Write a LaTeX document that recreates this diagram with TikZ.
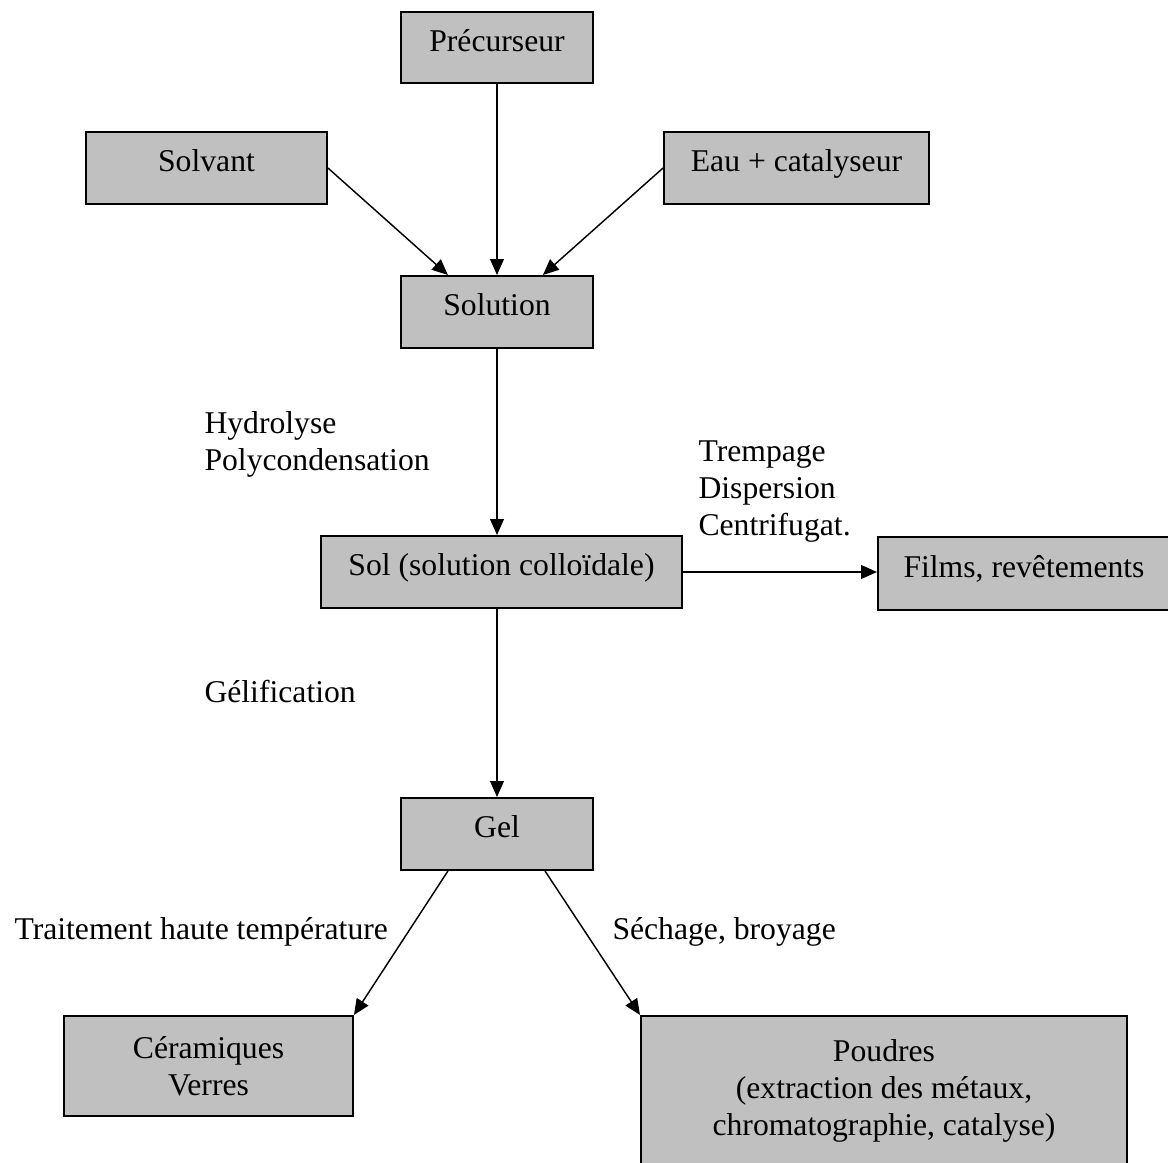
\documentclass[tikz,border=0pt]{standalone}
\usepackage{fontspec}
\setmainfont{Liberation Serif}
\usetikzlibrary{arrows.meta,positioning}
\definecolor{BoxGray}{RGB}{192,192,192}

\begin{document}
\begin{tikzpicture}[
  x=0.379pt,y=-0.379pt,
  font=\fontsize{12pt}{14pt}\selectfont,
  etape/.style={draw=black,fill=BoxGray,line width=0.75pt,inner sep=0pt,
                minimum height=27.3pt,align=center},
  simple/.style={etape,text height=8pt,text depth=5pt},
  flux/.style={-{Triangle[length=6pt,width=5.2pt]},line width=0.55pt},
  lbl/.style={anchor=base west,align=left,inner sep=0pt},
]
\useasboundingbox (0,0) rectangle (1168,1163);
\node[simple,minimum width=72.8pt,minimum height=26.9pt] (prec) at (497,47.5) {Précurseur};
\node[simple,minimum width=91.3pt]  (solv)  at (206.5,168) {Solvant};
\node[simple,minimum width=100.4pt] (eau)   at (796.5,168) {Eau + catalyseur};
\node[simple,minimum width=72.8pt]  (soln)  at (497,312)   {Solution};
\node[simple,minimum width=136.8pt] (sol)   at (501.5,572) {Sol (solution colloïdale)};
\node[simple,minimum width=110.7pt,minimum height=27.7pt] (films) at (1024,573.5) {Films, revêtements};
\node[simple,minimum width=72.8pt]  (gel)   at (497,834)   {Gel};
\node[etape,minimum width=109.5pt,minimum height=37.9pt] (cer) at (208.5,1066) {Céramiques\\Verres};
\node[etape,minimum width=184.2pt,minimum height=56.9pt] (pou) at (884,1091)
  {Poudres\\(extraction des métaux,\\chromatographie, catalyse)};
\draw[flux] (prec) -- (soln);
\draw[flux] (solv.east) -- ([xshift=-18.6pt]soln.north);
\draw[flux] (eau.west) -- ([xshift=17.4pt]soln.north);
\draw[flux] (soln.south) -- (soln.south |- sol.north);
\draw[flux] (sol.east) -- (sol.east -| films.west);
\draw[flux] (gel.north |- sol.south) -- (gel.north);
\draw[flux] ([xshift=-18.6pt]gel.south) -- (cer.north east);
\draw[flux] ([xshift=18.2pt]gel.south) -- (pou.north west);
\node[lbl] (hydro) at (204,470) {Hydrolyse\\Polycondensation};
\node[lbl] (tremp) at (698,535) {Trempage\\Dispersion\\Centrifugat.};
\node[lbl] (gelif) at (204,702) {Gélification};
\node[lbl] (trait) at (14,939)  {Traitement haute température};
\node[lbl] (sech)  at (612,939) {Séchage, broyage};
\end{tikzpicture}
\end{document}
